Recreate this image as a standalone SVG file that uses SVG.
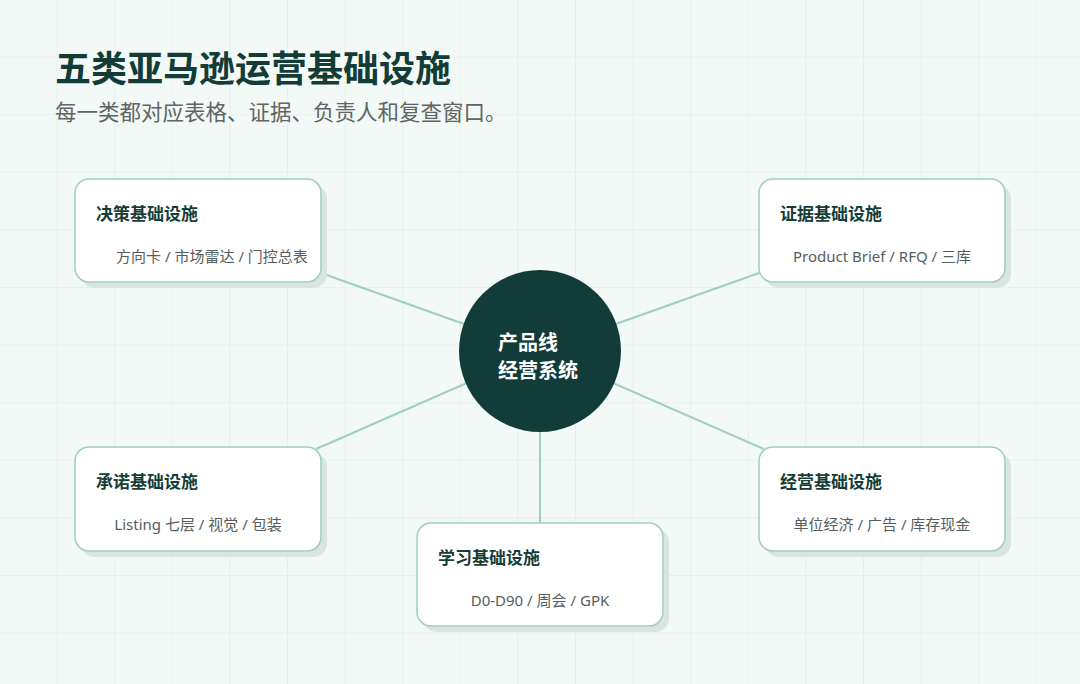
<svg xmlns="http://www.w3.org/2000/svg" width="1080" height="684" viewBox="0 0 1080 684">
<defs>
<pattern id="grid" width="57.6" height="57.6" patternUnits="userSpaceOnUse"><path d="M57.6 0V57.6M0 57.6H57.6" fill="none" stroke="#dae9e3" stroke-width="1"/></pattern>
<style>
.card{fill:#fff;stroke:#9fcfbf;stroke-width:1.5}
.sh{fill:#d9e5e0}
.t{font-family:"Noto Sans CJK SC",sans-serif;font-weight:700;font-size:17px;fill:#173d38}
.s{font-family:"Noto Sans","Noto Sans CJK SC",sans-serif;font-size:15px;fill:#555e5c;text-anchor:middle}
.ln{stroke:#9fcfbf;stroke-width:2;fill:none}
</style>
</defs>
<rect width="1080" height="684" fill="#f3f9f7"/>
<rect width="1080" height="684" fill="url(#grid)"/>
<text x="55" y="82" font-family="Noto Sans CJK SC,sans-serif" font-weight="700" font-size="36" fill="#143c37">五类亚马逊运营基础设施</text>
<text x="55" y="120" font-family="Noto Sans CJK SC,sans-serif" font-size="21.5" fill="#5d6664">每一类都对应表格、证据、负责人和复查窗口。</text>
<g id="connectors">
<line class="ln" x1="540" y1="351" x2="321" y2="273"/>
<line class="ln" x1="540" y1="351" x2="759" y2="273"/>
<line class="ln" x1="540" y1="351" x2="316" y2="449"/>
<line class="ln" x1="540" y1="351" x2="764" y2="449"/>
<line class="ln" x1="540" y1="351" x2="540" y2="523"/>
</g>
<g id="center"><circle cx="540" cy="351" r="81" fill="#123c39"/>
<text x="498" y="350" font-family="Noto Sans CJK SC,sans-serif" font-weight="700" font-size="20" fill="#fff">产品线</text>
<text x="498" y="378" font-family="Noto Sans CJK SC,sans-serif" font-weight="700" font-size="20" fill="#fff">经营系统</text></g>
<g id="n1"><rect class="sh" x="81" y="185" width="246" height="103" rx="14"/><rect class="card" x="75" y="179" width="246" height="103" rx="14"/><text class="t" x="96" y="220">决策基础设施</text><text class="s" x="212" y="262">方向卡 / 市场雷达 / 门控总表</text></g>
<g id="n2"><rect class="sh" x="765" y="185" width="246" height="103" rx="14"/><rect class="card" x="759" y="179" width="246" height="103" rx="14"/><text class="t" x="780" y="220">证据基础设施</text><text class="s" x="882" y="262">Product Brief / RFQ / 三库</text></g>
<g id="n3"><rect class="sh" x="81" y="453" width="246" height="104" rx="14"/><rect class="card" x="75" y="447" width="246" height="104" rx="14"/><text class="t" x="96" y="488">承诺基础设施</text><text class="s" x="198" y="530">Listing 七层 / 视觉 / 包装</text></g>
<g id="n4"><rect class="sh" x="765" y="453" width="246" height="104" rx="14"/><rect class="card" x="759" y="447" width="246" height="104" rx="14"/><text class="t" x="780" y="488">经营基础设施</text><text class="s" x="882" y="530">单位经济 / 广告 / 库存现金</text></g>
<g id="n5"><rect class="sh" x="423" y="529" width="246" height="103" rx="14"/><rect class="card" x="417" y="523" width="246" height="103" rx="14"/><text class="t" x="438" y="564">学习基础设施</text><text class="s" x="540" y="606">D0-D90 / 周会 / GPK</text></g>
</svg>
